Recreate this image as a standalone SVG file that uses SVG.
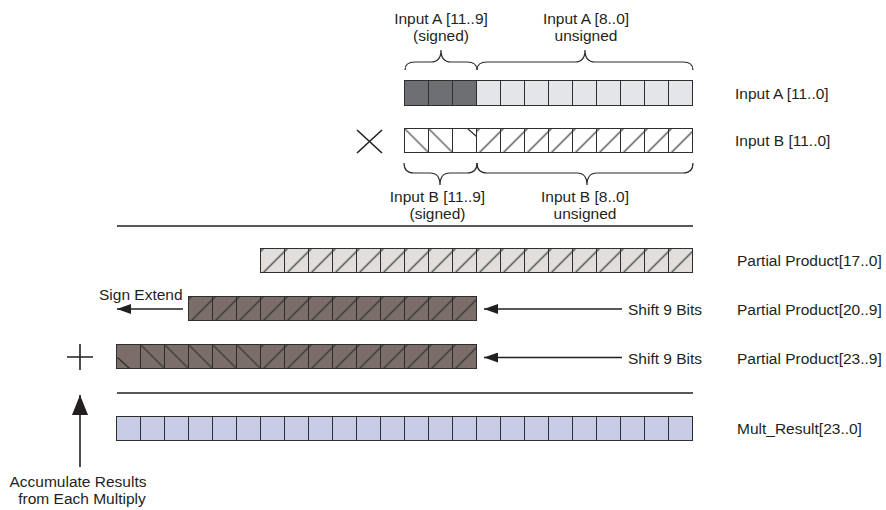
<svg xmlns="http://www.w3.org/2000/svg" width="886" height="510" viewBox="0 0 886 510">
  <style>
    .lbl { font-family: "Liberation Sans", Arial, Helvetica, sans-serif; font-size: 15.5px; fill: #231f20; }
    .mid { text-anchor: middle; }
    .grid { fill: none; stroke: #2e2e2e; stroke-width: 1; }
    .brace { fill: none; stroke: #2a2a2a; stroke-width: 1.2; }
    .rule { stroke: #231f20; stroke-width: 1.5; }
    .arrow { fill: none; stroke: #231f20; stroke-width: 1.6; }
    .op { stroke: #231f20; stroke-width: 1.6; fill: none; }
    .tick { stroke: #2a2a2a; stroke-width: 1.1; }
  </style>
  <defs>
    <!-- forward (/) and backward (\) cell hatching, 24px cells -->
    <pattern id="hatch-fwd" patternUnits="userSpaceOnUse" width="24" height="24">
      <path d="M3,24L24,3M0,3L3,0" stroke="#2a2a2a" stroke-width="1.1" fill="none"/>
    </pattern>
    <pattern id="hatch-back" patternUnits="userSpaceOnUse" width="24" height="24">
      <path d="M0,0L24,24" stroke="#2a2a2a" stroke-width="1.1" fill="none"/>
    </pattern>
    <marker id="head" markerUnits="userSpaceOnUse" markerWidth="14" markerHeight="10" refX="14" refY="5" orient="auto">
      <path d="M0,0L14,5L0,10Z" fill="#231f20"/>
    </marker>
    <marker id="head-lg" markerUnits="userSpaceOnUse" markerWidth="20" markerHeight="16" refX="20" refY="8" orient="auto">
      <path d="M0,0L20,8L0,16Z" fill="#231f20"/>
    </marker>
  </defs>

  <rect width="886" height="510" fill="#ffffff"/>

  <!-- Input A [11..0] -->
  <g id="input-a" transform="translate(404.5,80.5)">
    <rect x="0" y="0" width="72" height="25" fill="#6e6f72"/>
    <rect x="72" y="0" width="216" height="25" fill="#e3e5e8"/>
    <path class="grid" d="M24,0v25M48,0v25M72,0v25M96,0v25M120,0v25M144,0v25M168,0v25M192,0v25M216,0v25M240,0v25M264,0v25"/>
    <rect class="grid" width="288" height="25"/>
  </g>
  <g id="input-a-labels">
    <text class="lbl mid" x="441" y="24">Input A [11..9]</text>
    <text class="lbl mid" x="441" y="41">(signed)</text>
    <text class="lbl mid" x="586" y="24">Input A [8..0]</text>
    <text class="lbl mid" x="586" y="41">unsigned</text>
    <path class="brace" d="M405,70Q405,62 415,62L431,62Q441,62 441,50Q441,62 451,62L467,62Q477,62 477,70"/>
    <path class="brace" d="M477,70Q477,62 487,62L575,62Q585,62 585,50Q585,62 595,62L683,62Q693,62 693,70"/>
    <text class="lbl" x="735" y="99">Input A [11..0]</text>
  </g>

  <!-- multiply operator -->
  <g id="times">
    <path class="op" d="M357,130L382,153M357,153L382,130"/>
  </g>

  <!-- Input B [11..0] -->
  <g id="input-b" transform="translate(404.5,128.5)">
    <rect width="288" height="24" fill="#ffffff"/>
    <rect x="0" y="0" width="48" height="24" fill="url(#hatch-back)"/>
    <path class="tick" d="M63,0L72,8"/>
    <rect x="72" y="0" width="216" height="24" fill="url(#hatch-fwd)"/>
    <path class="grid" d="M24,0v24M48,0v24M72,0v24M96,0v24M120,0v24M144,0v24M168,0v24M192,0v24M216,0v24M240,0v24M264,0v24"/>
    <rect class="grid" width="288" height="24"/>
  </g>
  <g id="input-b-labels">
    <path class="brace" d="M404,163Q404,173 414,173L430,173Q440,173 440,185Q440,173 450,173L467,173Q477,173 477,163"/>
    <path class="brace" d="M477,163Q477,173 487,173L577,173Q587,173 587,185Q587,173 597,173L683,173Q693,173 693,163"/>
    <text class="lbl mid" x="437.5" y="202">Input B [11..9]</text>
    <text class="lbl mid" x="437.5" y="219">(signed)</text>
    <text class="lbl mid" x="585" y="202">Input B [8..0]</text>
    <text class="lbl mid" x="585" y="219">unsigned</text>
    <text class="lbl" x="735" y="146">Input B [11..0]</text>
  </g>

  <!-- Partial Product[17..0] -->
  <g id="pp-17-0" transform="translate(260.5,248.5)">
    <rect width="432" height="24" fill="#e2dedb"/>
    <rect width="432" height="24" fill="url(#hatch-fwd)"/>
    <path class="grid" stroke="#555" d="M24,0v24M48,0v24M72,0v24M96,0v24M120,0v24M144,0v24M168,0v24M192,0v24M216,0v24M240,0v24M264,0v24M288,0v24M312,0v24M336,0v24M360,0v24M384,0v24M408,0v24"/>
    <rect class="grid" width="432" height="24"/>
  </g>
  <text class="lbl" x="737" y="266">Partial Product[17..0]</text>

  <!-- Partial Product[20..9] -->
  <g id="pp-20-9" transform="translate(188.5,296.5)">
    <rect width="288" height="24" fill="#7b6e6a"/>
    <rect width="288" height="24" fill="url(#hatch-fwd)"/>
    <path class="grid" d="M24,0v24M48,0v24M72,0v24M96,0v24M120,0v24M144,0v24M168,0v24M192,0v24M216,0v24M240,0v24M264,0v24"/>
    <rect class="grid" width="288" height="24"/>
  </g>
  <g id="pp-20-9-labels">
    <text class="lbl" x="99" y="300">Sign Extend</text>
    <text class="lbl" x="628" y="315">Shift 9 Bits</text>
    <text class="lbl" x="737" y="315">Partial Product[20..9]</text>
  </g>

  <!-- Partial Product[23..9] -->
  <g id="pp-23-9" transform="translate(116.5,344.5)">
    <rect width="360" height="24" fill="#7b6e6a"/>
    <path class="tick" d="M1,13L13,24"/>
    <rect x="24" y="0" width="120" height="24" fill="url(#hatch-back)"/>
    <rect x="144" y="0" width="216" height="24" fill="url(#hatch-fwd)"/>
    <path class="grid" d="M24,0v24M48,0v24M72,0v24M96,0v24M120,0v24M144,0v24M168,0v24M192,0v24M216,0v24M240,0v24M264,0v24M288,0v24M312,0v24M336,0v24"/>
    <rect class="grid" width="360" height="24"/>
  </g>
  <g id="pp-23-9-labels">
    <text class="lbl" x="628" y="364">Shift 9 Bits</text>
    <text class="lbl" x="737" y="364">Partial Product[23..9]</text>
  </g>

  <!-- add operator -->
  <g id="plus">
    <path class="op" d="M67,357H93M80,344V370"/>
  </g>

  <!-- Mult_Result[23..0] -->
  <g id="mult-result" transform="translate(116.5,416.5)">
    <rect width="576" height="24" fill="#c8cce6"/>
    <path class="grid" stroke="#555" d="M24,0v24M48,0v24M72,0v24M96,0v24M120,0v24M144,0v24M168,0v24M192,0v24M216,0v24M240,0v24M264,0v24M288,0v24M312,0v24M336,0v24M360,0v24M384,0v24M408,0v24M432,0v24M456,0v24M480,0v24M504,0v24M528,0v24M552,0v24"/>
    <rect class="grid" width="576" height="24"/>
  </g>
  <text class="lbl" x="737" y="434">Mult_Result[23..0]</text>

  <g id="accumulate-label">
    <text class="lbl mid" x="78" y="487">Accumulate Results</text>
    <text class="lbl mid" x="82" y="504">from Each Multiply</text>
  </g>

  <!-- rules and arrows -->
  <g id="connectors">
    <line class="rule" x1="117" y1="226" x2="693" y2="226"/>
    <line class="rule" x1="117" y1="393" x2="693" y2="393"/>
    <line class="arrow" x1="183" y1="309" x2="117" y2="309" marker-end="url(#head)"/>
    <line class="arrow" x1="622" y1="309" x2="484" y2="309" marker-end="url(#head)"/>
    <line class="arrow" x1="622" y1="357.5" x2="484" y2="357.5" marker-end="url(#head)"/>
    <line class="arrow" x1="80" y1="467" x2="80" y2="395" marker-end="url(#head-lg)"/>
  </g>
</svg>
